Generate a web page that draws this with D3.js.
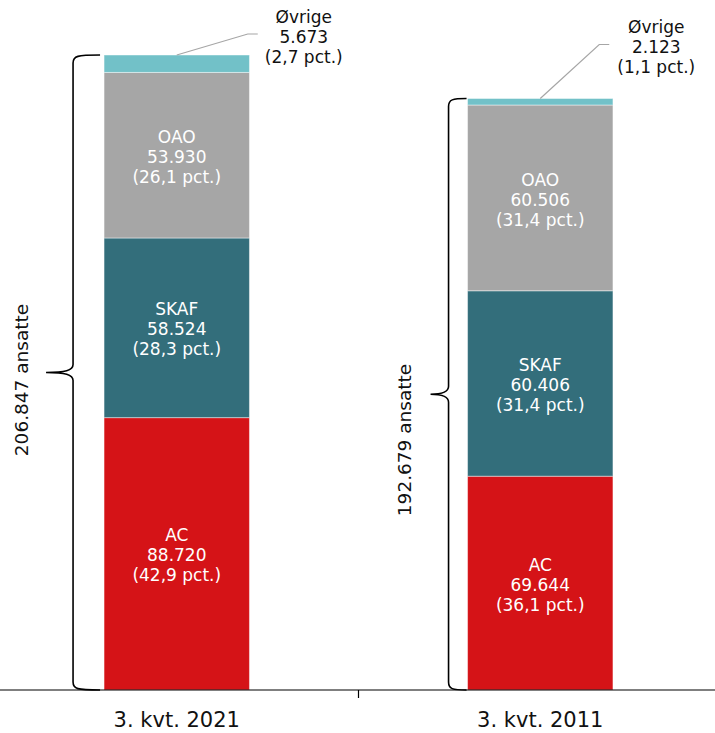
<!DOCTYPE html>
<html>
<head>
<meta charset="utf-8">
<script src="https://cdn.jsdelivr.net/npm/d3@7"></script>
<style>
  body { margin: 0; background: #fff; }
  text { font-family: "DejaVu Sans", Verdana, sans-serif; }
</style>
</head>
<body>
<svg id="chart" width="715" height="733"></svg>
<script>
// data
var categories = ["3. kvt. 2021", "3. kvt. 2011"];
var groups = ["AC", "SKAF", "OAO", "Øvrige"];
var acValues = [88720, 69644];
var skafValues = [58524, 60406];
var oaoValues = [53930, 60506];
var ovrigeValues = [5673, 2123];

var colors = {"AC": "#d51317", "SKAF": "#336e7b", "OAO": "#a6a6a6", "Øvrige": "#72c1c8"};

var width = 715, height = 733, baseY = 690, topY = 55;

var dk = d3.formatLocale({decimal: ",", thousands: ".", grouping: [3], currency: ["", " kr."]});
var fmtNum = dk.format(",d");
var fmtPct = dk.format(".1f");

var rows = categories.map(function(c, i) {
  return {cat: c, "AC": acValues[i], "SKAF": skafValues[i], "OAO": oaoValues[i], "Øvrige": ovrigeValues[i]};
});
var totals = rows.map(function(r) { return d3.sum(groups, function(g) { return r[g]; }); });

var svg = d3.select("#chart");

var x = d3.scaleBand().domain(categories).range([-5, 722]).paddingInner(0.6).paddingOuter(0.3);
var y = d3.scaleLinear().domain([0, d3.max(totals)]).range([baseY, topY]);

var stack = d3.stack().keys(groups)(rows);

// bars
var layers = svg.selectAll("g.layer").data(stack).enter().append("g")
  .attr("class", "layer")
  .attr("fill", function(d) { return colors[d.key]; });

layers.selectAll("rect").data(function(d) { return d; }).enter().append("rect")
  .attr("x", function(d) { return x(d.data.cat); })
  .attr("y", function(d) { return y(d[1]); })
  .attr("width", x.bandwidth())
  .attr("height", function(d) { return y(d[0]) - y(d[1]); })
  .attr("stroke", "#fff")
  .attr("stroke-opacity", 0.45)
  .attr("stroke-width", 1);

// labels inside segments (not Øvrige)
stack.forEach(function(layer) {
  if (layer.key === "Øvrige") return;
  layer.forEach(function(d, i) {
    var cx = x(d.data.cat) + x.bandwidth() / 2;
    var cy = (y(d[0]) + y(d[1])) / 2;
    var v = d[1] - d[0];
    var lines = [layer.key, fmtNum(v), "(" + fmtPct(v / totals[i] * 100) + " pct.)"];
    var t = svg.append("text")
      .attr("text-anchor", "middle")
      .attr("fill", "#fff")
      .style("font-size", "17px");
    lines.forEach(function(s, k) {
      t.append("tspan").attr("x", cx).attr("y", cy + (k - 1) * 20).attr("dy", "0.45em").text(s);
    });
  });
});

// Øvrige callouts
var callout = [
  {elbowDx: 71, elbowDy: -21, endDx: 81, labelDx: 127, labelDy: -39},
  {elbowDx: 59, elbowDy: -54, endDx: 69, labelDx: 116, labelDy: -72}
];
rows.forEach(function(r, i) {
  var cx = x(r.cat) + x.bandwidth() / 2;
  var ty = y(totals[i]);
  var c = callout[i];
  svg.append("path")
    .attr("d", "M" + cx + "," + ty + "L" + (cx + c.elbowDx) + "," + (ty + c.elbowDy) + "L" + (cx + c.endDx) + "," + (ty + c.elbowDy))
    .attr("fill", "none").attr("stroke", "#a6a6a6").attr("stroke-width", 1.2);
  var v = r["Øvrige"];
  var lines = ["Øvrige", fmtNum(v), "(" + fmtPct(v / totals[i] * 100) + " pct.)"];
  var t = svg.append("text").attr("text-anchor", "middle").attr("fill", "#111").style("font-size", "17px");
  lines.forEach(function(s, k) {
    t.append("tspan").attr("x", cx + c.labelDx).attr("y", ty + c.labelDy + k * 20).attr("dy", "0.4em").text(s);
  });
});

// braces with totals
var braceLayout = [
  {lineDx: -31, cuspDx: -58, endDx: -4, labelX: 22, labelY: 380},
  {lineDx: -19, cuspDx: -37, endDx: -1, labelX: 405, labelY: 440}
];
rows.forEach(function(r, i) {
  var bx = x(r.cat);
  var b = braceLayout[i];
  var yt = y(totals[i]), yb = y(0), ym = (yt + yb) / 2;
  var xl = bx + b.lineDx, xc = bx + b.cuspDx, xe = bx + b.endDx;
  var p = "M" + xe + "," + yt +
    "C" + (xl + 4) + "," + yt + " " + xl + "," + (yt + 1) + " " + xl + "," + (yt + 8) +
    "L" + xl + "," + (ym - 8) +
    "C" + xl + "," + (ym - 2) + " " + (xl - 8) + "," + ym + " " + xc + "," + ym +
    "C" + (xl - 8) + "," + ym + " " + xl + "," + (ym + 2) + " " + xl + "," + (ym + 8) +
    "L" + xl + "," + (yb - 8) +
    "C" + xl + "," + (yb - 1) + " " + (xl + 4) + "," + yb + " " + xe + "," + yb;
  svg.append("path").attr("d", p).attr("fill", "none").attr("stroke", "#000").attr("stroke-width", 1.6);
  svg.append("text")
    .attr("transform", "translate(" + b.labelX + "," + b.labelY + ") rotate(-90)")
    .attr("text-anchor", "middle")
    .attr("dy", "0.35em")
    .attr("fill", "#111")
    .style("font-size", "18.5px")
    .text(fmtNum(totals[i]) + " ansatte");
});

// x axis
var axis = svg.append("g").attr("transform", "translate(0," + baseY + ")")
  .call(d3.axisBottom(x).tickSize(0).tickPadding(22));
axis.select(".domain").remove();
axis.selectAll("text").style("font-size", "21px").attr("fill", "#111")
  .style("font-family", "DejaVu Sans, Verdana, sans-serif");
axis.append("line").attr("x1", 0).attr("x2", width).attr("y1", 0).attr("y2", 0)
  .attr("stroke", "#000").attr("stroke-width", 1.2);
var mid = (x(categories[0]) + x.bandwidth() + x(categories[1])) / 2;
axis.append("line").attr("x1", mid).attr("x2", mid).attr("y1", 0).attr("y2", 8)
  .attr("stroke", "#000").attr("stroke-width", 1.2);
</script>
</body>
</html>
